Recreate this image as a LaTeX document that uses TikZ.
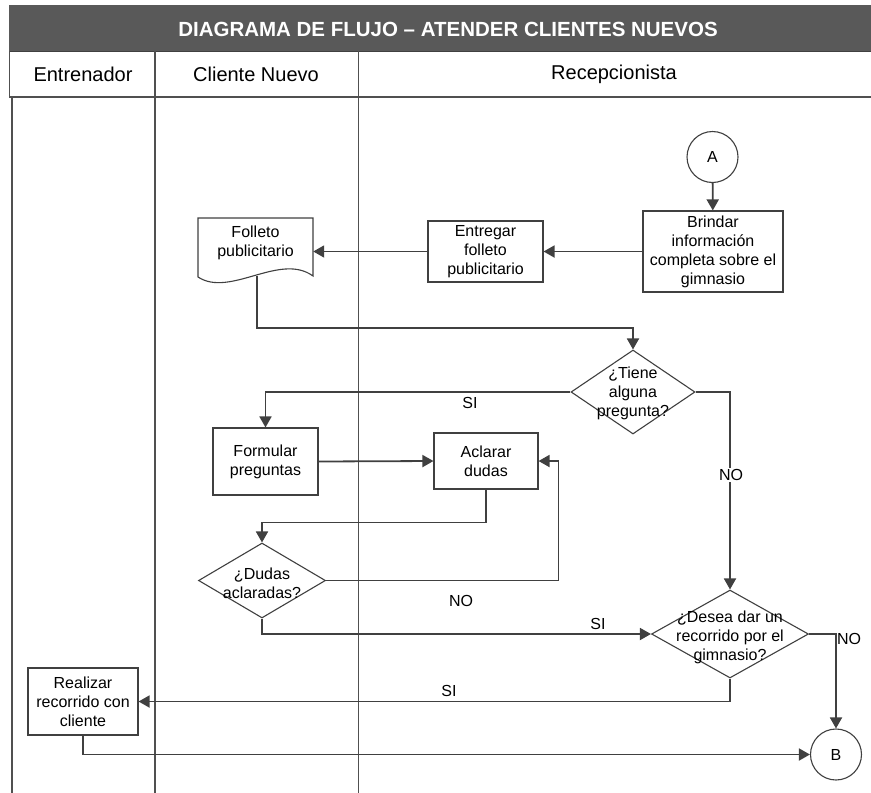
\documentclass[tikz,border=0pt]{standalone}
\usepackage{fontspec}
\setmainfont{Liberation Sans}
\usetikzlibrary{arrows.meta,shapes.geometric,calc}
\definecolor{ln}{HTML}{404040}
\definecolor{lane}{HTML}{505050}
\definecolor{bar}{HTML}{595959}

\begin{document}
\begin{tikzpicture}[x=1pt,y=-1pt,
  every node/.style={font=\fontsize{16}{19}\selectfont, text=black},
  flow/.style={draw=ln, line width=1.8pt, -{Triangle[length=11pt,width=12pt]}},
  box/.style={draw=ln, line width=1.1pt, fill=white, align=center, inner sep=0pt},
  dia/.style={diamond, draw=ln, line width=1.1pt, fill=white, inner sep=0pt},
  conn/.style={circle, draw=ln, line width=1.1pt, fill=white, inner sep=0pt, minimum size=51pt},
  txt/.style={align=center, inner sep=0pt},
  lbl/.style={inner sep=1pt},
  head/.style={font=\fontsize{20}{24}\selectfont},
]
\useasboundingbox (0,0) rectangle (871,793);

% title bar and lane headers
\fill[bar] (9,5) rectangle (871,51);
\draw[black!75, line width=1pt] (9,51) -- (871,51);
\node[font=\bfseries\fontsize{20.5}{24}\selectfont, text=white] (title) at (448,29) {DIAGRAMA DE FLUJO -- ATENDER CLIENTES NUEVOS};
\draw[lane, line width=1.4pt] (9.5,51) -- (9.5,97);
\draw[lane, line width=1.6pt] (9,97) -- (871,97);
\node[head] (h1) at (83,74) {Entrenador};
\node[head] (h2) at (256,74) {Cliente Nuevo};
\node[head] (h3) at (614,74) {Recepcionista};

% lane separators
\draw[lane, line width=1.4pt] (12,97) -- (12,793);
\draw[lane, line width=1.4pt] (155,51) -- (155,793);
\draw[lane, line width=1.4pt] (358.5,51) -- (358.5,793);

% process steps
\node[conn] (A) at (712.5,157) {A};
\node[box, minimum width=140pt, minimum height=81pt] (brin) at (713,251.5) {Brindar\\información\\completa sobre el\\gimnasio};
\node[box, minimum width=115pt, minimum height=61pt] (ent) at (485.5,251.5) {Entregar\\folleto\\publicitario};

% printed brochure (document shape)
\draw[ln, line width=1.1pt, fill=white] (198,218) -- (313,218) -- (313,276)
  .. controls (280,252) and (230,298) .. (198,277) -- cycle;
\node[txt, minimum width=115pt, minimum height=40pt] (fol) at (255.5,243) {Folleto\\publicitario};
\coordinate (fo) at (257,276);

\node[dia, minimum width=124pt, minimum height=84pt] (d1) at (633,392) {};
\node[txt] (d1t) at (633,393) {¿Tiene\\alguna\\pregunta?};

\node[box, minimum width=105pt, minimum height=67pt] (form) at (265.5,461.5) {Formular\\preguntas};
\node[box, minimum width=104pt, minimum height=56pt] (acl) at (486,461) {Aclarar\\dudas};

\node[dia, minimum width=127pt, minimum height=75pt] (d2) at (262,580.5) {};
\node[txt] (d2t) at (262,583) {¿Dudas\\aclaradas?};

\node[dia, minimum width=157pt, minimum height=88pt] (d3) at (730,634) {};
\node[txt] (d3t) at (730,637) {¿Desea dar un\\recorrido por el\\gimnasio?};

\node[box, minimum width=110pt, minimum height=67pt] (real) at (83,701.5) {Realizar\\recorrido con\\cliente};
\node[conn] (B) at (836,754.5) {B};

% connectors
\draw[flow] (A) -- (brin);
\draw[flow] (brin.west) -- (ent.east);
\draw[flow] (ent.west) -- (ent.west -| fol.east);
\draw[flow] (fo) -- ++(0,52) -| (d1.north);
\draw[flow] (d1.west) -| (form.north);
\node[lbl] (si1) at (470,403) {SI};
\draw[flow] (d1.east) -| (d3.north);
\node[lbl, fill=white] (no1) at (731,475) {NO};
\draw[flow] (form.east) -- (acl.west);
\draw[flow] (acl.south) -- ++(0,33) -| (d2.north);
\draw[flow] (d2.east) -| ($(acl.east)+(20,0)$) -- (acl.east);
\node[lbl] (no2) at (461,601) {NO};
\draw[flow] (d2.south) |- (d3.west);
\node[lbl] (si2) at (598,624) {SI};
\draw[flow] (d3.east) -| (B.north);
\node[lbl] (no3) at (849,639) {NO};
\draw[flow] (d3.south) |- (real.east);
\node[lbl] (si3) at (449,691) {SI};
\draw[flow] (real.south) |- (B.west);
\end{tikzpicture}
\end{document}
